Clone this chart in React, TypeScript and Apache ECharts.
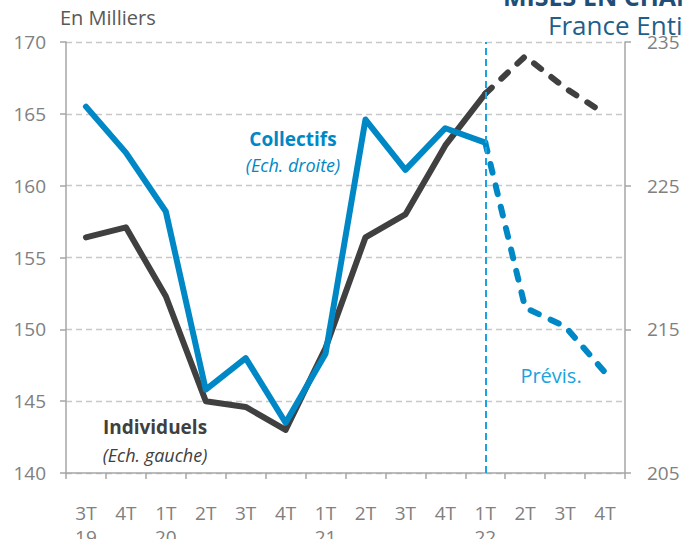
import React, { useEffect, useRef } from "react";
import * as echarts from "echarts";

const categories = ["3T\n19", "4T", "1T\n20", "2T", "3T", "4T", "1T\n21", "2T", "3T", "4T", "1T\n22", "2T", "3T", "4T"];
const individuels = [156.4, 157.1, 152.3, 145.0, 144.6, 143.0, 148.7, 156.4, 158.0, 162.8, 166.4, 169.0, 166.8, 165.0];
const collectifs = [230.5, 227.3, 223.2, 210.8, 213.0, 208.5, 213.3, 229.6, 226.1, 229.0, 228.0, 216.5, 215.2, 212.0];
const forecastStart = 10;
const leftTicks = { min: 140, max: 170, interval: 5 };
const rightTicks = { min: 205, max: 235, interval: 10 };

const FONT = "Open Sans";
const BLACK = "#404040";
const BLUE = "#0088c6";
const LIGHTBLUE = "#1aa3e0";

function split(values: number[]) {
  const actual = values.map((v, i) => (i <= forecastStart ? v : null));
  const prev = values.map((v, i) => (i >= forecastStart ? v : null));
  return { actual, prev };
}

export default function App() {
  const ref = useRef<HTMLDivElement>(null);
  useEffect(() => {
    if (!ref.current) return;
    const chart = echarts.init(ref.current, null, { renderer: "svg" });
    const ind = split(individuels);
    const col = split(collectifs);
    const dash = [9, 13];
    chart.setOption({
      animation: false,
      textStyle: { fontFamily: FONT },
      grid: { left: 66, right: 58, top: 42, bottom: 66, containLabel: false, outerBoundsMode: "none" },
      xAxis: {
        type: "category",
        data: categories,
        boundaryGap: true,
        axisLine: { lineStyle: { color: "#a6a6a6", width: 1.5 } },
        axisTick: { show: true, length: 6, lineStyle: { color: "#a6a6a6", width: 1.5 } },
        axisLabel: { color: "#808080", fontSize: 19, fontFamily: FONT, margin: 28, lineHeight: 24, interval: 0 },
        splitLine: { show: false },
      },
      yAxis: [
        {
          type: "value",
          min: leftTicks.min,
          max: leftTicks.max,
          interval: leftTicks.interval,
          axisLine: { show: true, lineStyle: { color: "#a6a6a6", width: 1.5 } },
          axisTick: { show: true, length: 6, lineStyle: { color: "#a6a6a6", width: 1.5 } },
          axisLabel: { color: "#808080", fontSize: 19, fontFamily: FONT, margin: 20 },
          splitLine: { show: true, lineStyle: { color: "#c8c8c8", type: [6, 4], width: 1.3 } },
        },
        {
          type: "value",
          position: "right",
          min: rightTicks.min,
          max: rightTicks.max,
          interval: rightTicks.interval,
          axisLine: { show: true, lineStyle: { color: "#a6a6a6", width: 1.5 } },
          axisTick: { show: true, length: 6, lineStyle: { color: "#a6a6a6", width: 1.5 } },
          axisLabel: { color: "#808080", fontSize: 19, fontFamily: FONT, margin: 22 },
          splitLine: { show: false },
        },
      ],
      series: [
        {
          name: "Individuels",
          type: "line",
          yAxisIndex: 0,
          data: ind.actual,
          symbol: "none",
          lineStyle: { color: BLACK, width: 6, join: "round", cap: "round" },
          z: 3,
          markLine: {
            silent: true,
            symbol: "none",
            label: { show: false },
            lineStyle: { color: LIGHTBLUE, width: 2, type: [7, 4] },
            data: [{ xAxis: forecastStart }],
          },
        },
        {
          name: "Individuels prévis",
          type: "line",
          yAxisIndex: 0,
          data: ind.prev,
          symbol: "none",
          lineStyle: { color: BLACK, width: 6, type: dash, join: "round", cap: "round" },
          z: 3,
        },
        {
          name: "Collectifs",
          type: "line",
          yAxisIndex: 1,
          data: col.actual,
          symbol: "none",
          lineStyle: { color: BLUE, width: 6, join: "round", cap: "round" },
          z: 4,
        },
        {
          name: "Collectifs prévis",
          type: "line",
          yAxisIndex: 1,
          data: col.prev,
          symbol: "none",
          lineStyle: { color: BLUE, width: 6, type: dash, join: "round", cap: "round" },
          z: 4,
        },
      ],
      graphic: [
        { type: "text", left: 60, top: 7, style: { text: "En Milliers", fill: "#595959", font: `20px "${FONT}"` } },
        { type: "text", x: 503, y: -17, style: { text: "MISES EN CHANTIER", fill: "#1f4e79", font: `bold 25px "${FONT}"` } },
        { type: "text", x: 548, y: 12, style: { text: "France Entière", fill: "#1f5f8b", font: `26px "${FONT}"` } },
        { type: "text", x: 293, y: 139, style: { text: "Collectifs", fill: BLUE, font: `bold 19px "${FONT}"`, textAlign: "center", textVerticalAlign: "middle" } },
        { type: "text", x: 293, y: 165, style: { text: "(Ech. droite)", fill: BLUE, font: `italic 18px "${FONT}"`, textAlign: "center", textVerticalAlign: "middle" } },
        { type: "text", x: 155, y: 427, style: { text: "Individuels", fill: BLACK, font: `bold 19px "${FONT}"`, textAlign: "center", textVerticalAlign: "middle" } },
        { type: "text", x: 155, y: 455, style: { text: "(Ech. gauche)", fill: BLACK, font: `italic 18px "${FONT}"`, textAlign: "center", textVerticalAlign: "middle" } },
        { type: "text", x: 551, y: 375, style: { text: "Prévis.", fill: LIGHTBLUE, font: `20px "${FONT}"`, textAlign: "center", textVerticalAlign: "middle" } },
      ],
    });
    return () => chart.dispose();
  }, []);
  return <div ref={ref} style={{ width: 683, height: 539, position: "absolute", left: 0, top: 0 }} />;
}
